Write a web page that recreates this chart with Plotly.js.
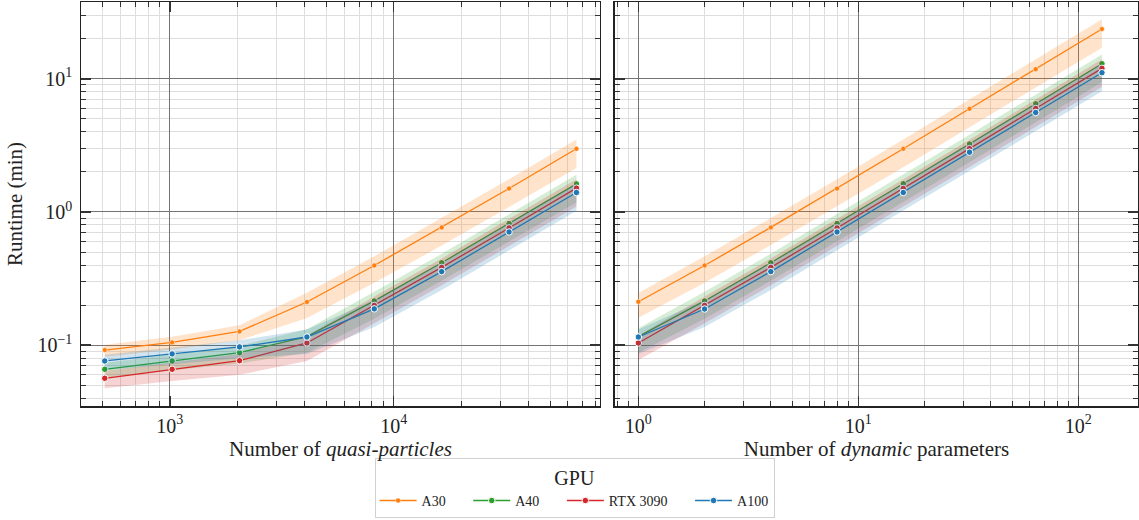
<!DOCTYPE html>
<html>
<head>
<meta charset="utf-8">
<script src="https://cdn.plot.ly/plotly-3.0.1.min.js"></script>
<style>html,body{margin:0;padding:0;background:#fff;}#chart{width:1139px;height:520px;}</style>
</head>
<body>
<div id="chart"></div>
<script>
// ---------- data ----------
const gpus = ["A30", "A40", "RTX 3090", "A100"];
const colors = ["#ff7f0e", "#2ca02c", "#d62728", "#1f77b4"];
const bandColors = ["rgba(255,127,14,0.22)", "rgba(44,160,44,0.2)", "rgba(214,39,40,0.2)", "rgba(31,119,180,0.2)"];

// Left panel: number of quasi-particles
const quasiParticles = [512, 1024, 2048, 4096, 8192, 16384, 32768, 65536];
const qpA30    = [0.092, 0.105, 0.127, 0.211, 0.397, 0.766, 1.50, 2.98];
const qpA30Hi  = [0.101, 0.116, 0.141, 0.248, 0.465, 0.90, 1.76, 3.50];
const qpA30Lo  = [0.082, 0.093, 0.109, 0.160, 0.295, 0.56, 1.09, 2.14];
const qpA40    = [0.066, 0.0762, 0.088, 0.116, 0.215, 0.416, 0.820, 1.625];
const qpA40Hi  = [0.074, 0.085, 0.099, 0.132, 0.252, 0.485, 0.96, 1.90];
const qpA40Lo  = [0.057, 0.065, 0.073, 0.088, 0.158, 0.305, 0.60, 1.18];
const qpRTX    = [0.0565, 0.066, 0.0766, 0.104, 0.199, 0.384, 0.759, 1.51];
const qpRTXHi  = [0.064, 0.074, 0.086, 0.118, 0.232, 0.448, 0.885, 1.76];
const qpRTXLo  = [0.0475, 0.054, 0.060, 0.076, 0.146, 0.282, 0.556, 1.10];
const qpA100   = [0.0762, 0.0861, 0.0971, 0.1153, 0.1874, 0.357, 0.708, 1.40];
const qpA100Hi = [0.085, 0.096, 0.109, 0.131, 0.219, 0.417, 0.83, 1.64];
const qpA100Lo = [0.065, 0.072, 0.080, 0.086, 0.137, 0.260, 0.515, 1.02];

// Right panel: number of dynamic parameters
const dynParams = [1, 2, 4, 8, 16, 32, 64, 128];
const dpA30    = [0.212, 0.397, 0.766, 1.50, 2.98, 5.95, 11.8, 23.6];
const dpA30Hi  = [0.247, 0.465, 0.90, 1.76, 3.50, 6.98, 13.9, 27.9];
const dpA30Lo  = [0.161, 0.295, 0.565, 1.10, 2.17, 4.33, 8.55, 17.1];
const dpA40    = [0.116, 0.215, 0.416, 0.820, 1.63, 3.24, 6.49, 12.97];
const dpA40Hi  = [0.134, 0.252, 0.486, 0.96, 1.91, 3.80, 7.60, 15.2];
const dpA40Lo  = [0.088, 0.158, 0.305, 0.60, 1.19, 2.36, 4.72, 9.4];
const dpRTX    = [0.104, 0.199, 0.384, 0.759, 1.50, 2.99, 5.98, 11.97];
const dpRTXHi  = [0.118, 0.232, 0.448, 0.885, 1.75, 3.49, 6.98, 14.0];
const dpRTXLo  = [0.0776, 0.146, 0.282, 0.556, 1.10, 2.18, 4.36, 8.7];
const dpA100   = [0.1153, 0.187, 0.357, 0.708, 1.40, 2.81, 5.58, 11.1];
const dpA100Hi = [0.131, 0.219, 0.417, 0.83, 1.64, 3.29, 6.53, 13.0];
const dpA100Lo = [0.086, 0.137, 0.260, 0.515, 1.02, 2.04, 4.05, 8.05];

const leftSeries  = [[qpA30, qpA30Hi, qpA30Lo], [qpA40, qpA40Hi, qpA40Lo], [qpRTX, qpRTXHi, qpRTXLo], [qpA100, qpA100Hi, qpA100Lo]];
const rightSeries = [[dpA30, dpA30Hi, dpA30Lo], [dpA40, dpA40Hi, dpA40Lo], [dpRTX, dpRTXHi, dpRTXLo], [dpA100, dpA100Hi, dpA100Lo]];

// ---------- traces ----------
const NB = '\u00a0';
const traces = [];
function addPanel(xs, series, xa, ya, legend) {
  series.forEach((s, i) => {
    traces.push({x: xs, y: s[1], xaxis: xa, yaxis: ya, type: 'scatter', mode: 'lines',
      line: {width: 0, color: bandColors[i]}, hoverinfo: 'skip', showlegend: false});
    traces.push({x: xs, y: s[2], xaxis: xa, yaxis: ya, type: 'scatter', mode: 'lines',
      line: {width: 0, color: bandColors[i]}, fill: 'tonexty', fillcolor: bandColors[i],
      hoverinfo: 'skip', showlegend: false});
    const pad = (legend && i < gpus.length - 1) ? NB.repeat(5) : '';
    traces.push({x: xs, y: s[0], xaxis: xa, yaxis: ya, type: 'scatter', mode: 'lines+markers',
      name: gpus[i] + pad, legendgroup: gpus[i], showlegend: legend,
      line: {color: colors[i], width: 1.3},
      marker: {color: colors[i], size: i === 0 ? 5 : 6.5, line: {color: '#ffffff', width: i === 0 ? 0.5 : 1}}});
  });
}
addPanel(quasiParticles, leftSeries, 'x', 'y', true);
addPanel(dynParams, rightSeries, 'x2', 'y2', false);

// ---------- layout ----------
const FONT = 'Liberation Serif, Times New Roman, serif';
const alias = {'1': '10<sup>0</sup>', '10': '10<sup>1</sup>'};
function logAxis(extra) {
  return Object.assign({
    type: 'log', dtick: 1, exponentformat: 'power', labelalias: alias,
    showline: true, linecolor: '#222', linewidth: 1.5, mirror: 'allticks',
    ticks: 'inside', ticklen: 10, tickwidth: 1.6, tickcolor: '#333',
    showgrid: true, gridcolor: '#737373', gridwidth: 1,
    minor: {ticks: 'inside', ticklen: 5, tickwidth: 1, tickcolor: '#333', showgrid: true, gridcolor: '#dedede', gridwidth: 1},
    tickfont: {family: FONT, size: 16, color: '#222'},
    zeroline: false
  }, extra);
}

const layout = {
  width: 1139, height: 520,
  margin: {l: 81, r: 1, t: 2, b: 114},
  paper_bgcolor: '#ffffff', plot_bgcolor: '#ffffff',
  font: {family: FONT, color: '#222'},
  showlegend: true,
  xaxis: logAxis({domain: [0, 0.491], range: [Math.log10(401), Math.log10(83500)], anchor: 'y',
    ticklabelstandoff: 2,
    title: {text: 'Number of <i>quasi-particles</i>', font: {family: FONT, size: 21, color: '#222'}, standoff: 4}}),
  xaxis2: logAxis({domain: [0.5052, 1], range: [Math.log10(0.783), Math.log10(186.7)], anchor: 'y2',
    ticklabelstandoff: 2,
    title: {text: 'Number of <i>dynamic</i> parameters', font: {family: FONT, size: 21, color: '#222'}, standoff: 4}}),
  yaxis: logAxis({domain: [0, 1], range: [-1.456, 1.576], anchor: 'x', ticklabelstandoff: 4,
    title: {text: 'Runtime (min)', font: {family: FONT, size: 21, color: '#222'}, standoff: 9}}),
  yaxis2: logAxis({domain: [0, 1], range: [-1.456, 1.576], anchor: 'x2', matches: 'y', showticklabels: false}),
  legend: {
    orientation: 'h', x: 0.467, xanchor: 'center', y: -0.277, yanchor: 'bottom',
    bgcolor: '#ffffff', bordercolor: '#d0d0d0', borderwidth: 1,
    font: {family: FONT, size: 14, color: '#222'},
    itemwidth: 37,
    title: {text: 'GPU', side: 'top center', font: {family: FONT, size: 20, color: '#222'}}
  }
};

Plotly.newPlot('chart', traces, layout, {displayModeBar: false, staticPlot: true});
</script>
</body>
</html>
